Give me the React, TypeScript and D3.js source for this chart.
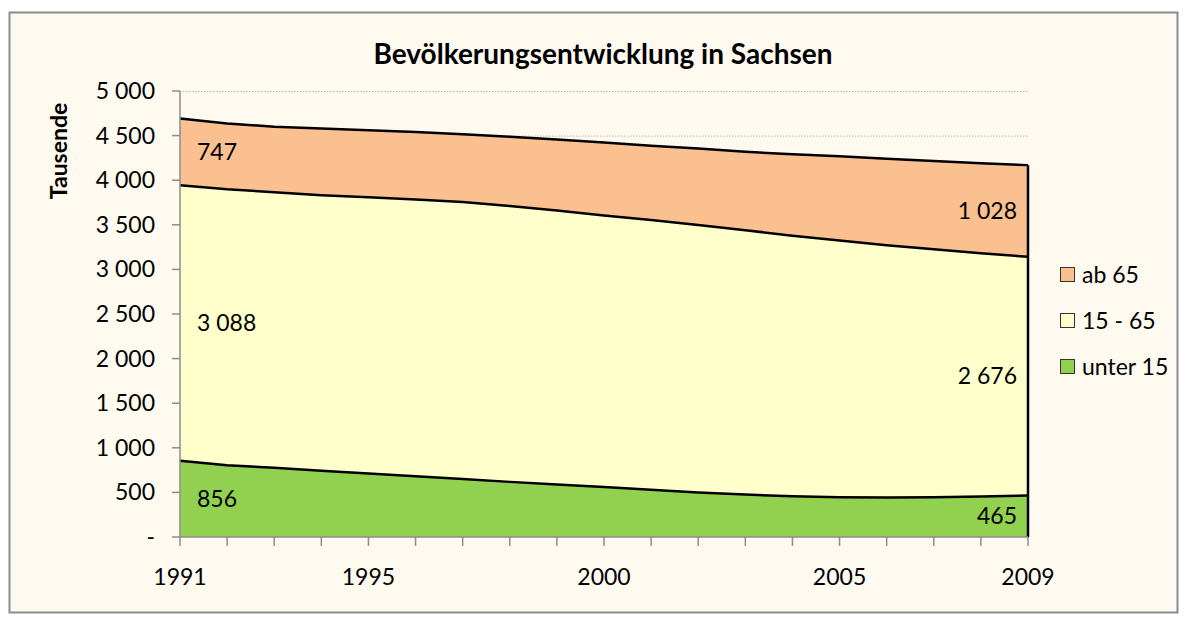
import React from 'react';
import * as d3 from 'd3';

// Data (Tausende)
const years = [1991, 1992, 1993, 1994, 1995, 1996, 1997, 1998, 1999, 2000, 2001, 2002, 2003, 2004, 2005, 2006, 2007, 2008, 2009];
const unter15 = [856, 805, 775, 742, 712, 680, 650, 618, 588, 560, 530, 500, 476, 456, 445, 442, 445, 453, 465];
const von15bis65 = [3088, 3093, 3090, 3090, 3098, 3105, 3105, 3094, 3072, 3045, 3025, 2998, 2964, 2921, 2878, 2828, 2780, 2727, 2676];
const ab65 = [747, 737, 735, 748, 750, 755, 760, 776, 795, 817, 830, 857, 878, 915, 945, 970, 990, 1010, 1028];

const seriesKeys = ['unter 15', '15 - 65', 'ab 65'];
const seriesColors = ['#92D050', '#FFFFCC', '#FAC090'];
const legendOrder = ['ab 65', '15 - 65', 'unter 15'];
const yTicks = [0, 500, 1000, 1500, 2000, 2500, 3000, 3500, 4000, 4500, 5000];
const xLabels = [1991, 1995, 2000, 2005, 2009];

const W = 1187;
const H = 621;
const margin = { left: 180, right: 159, top: 91, bottom: 84 };
const FONT = 'Lato, Carlito, Calibri, sans-serif';

const fmt = d3.formatLocale({ decimal: ',', thousands: ' ', grouping: [3], currency: ['', ''] }).format(',d');

export default function App() {
  const rows = years.map((year, i) => ({
    year,
    'unter 15': unter15[i],
    '15 - 65': von15bis65[i],
    'ab 65': ab65[i],
  }));

  const stacked = d3.stack<any>().keys(seriesKeys)(rows);

  const x = d3.scaleLinear()
    .domain([years[0], years[years.length - 1]])
    .range([margin.left, W - margin.right]);
  const y = d3.scaleLinear()
    .domain([0, 5000])
    .range([H - margin.bottom, margin.top]);

  const area = d3.area<any>()
    .x(d => x(d.data.year))
    .y0(d => y(d[0]))
    .y1(d => y(d[1]));
  const topLine = d3.line<any>()
    .x(d => x(d.data.year))
    .y(d => y(d[1]));

  const color = d3.scaleOrdinal<string, string>().domain(seriesKeys).range(seriesColors);

  const first = 0;
  const last = years.length - 1;
  const x0 = x(years[first]);
  const x1 = x(years[last]);
  const mid = (s: any, i: number) => y((s[i][0] + s[i][1]) / 2);

  return (
    <svg width={W} height={H} style={{ position: 'absolute', left: 0, top: 0, display: 'block' }} fontFamily={FONT}>
      <rect x={0} y={0} width={W} height={H} fill="#ffffff" />
      <rect x={9.5} y={12.5} width={1168} height={600} fill="#FEFAF0" stroke="#8c8c8c" strokeWidth={2} />

      <text x={603} y={64} textAnchor="middle" fontSize={28} fontWeight="bold" fill="#000">
        Bevölkerungsentwicklung in Sachsen
      </text>

      {/* gridlines */}
      {yTicks.filter(t => t > 0).map(t => (
        <line key={t} x1={x0} x2={x1} y1={y(t) + 0.5} y2={y(t) + 0.5} stroke="#b5b5b5" strokeWidth={1} strokeDasharray="1.5,1.5" />
      ))}

      {/* areas */}
      {stacked.map(s => (
        <path key={s.key} d={area(s) || ''} fill={color(s.key)} />
      ))}
      {stacked.map(s => (
        <path key={s.key + '-line'} d={topLine(s) || ''} fill="none" stroke="#000" strokeWidth={2.5} />
      ))}
      <line x1={x1} x2={x1} y1={y(0)} y2={y(stacked[2][last][1])} stroke="#000" strokeWidth={2.5} />

      {/* y axis */}
      <line x1={x0} x2={x0} y1={y(5000)} y2={y(0)} stroke="#8c8c8c" strokeWidth={1.5} />
      {yTicks.map(t => (
        <g key={t}>
          <line x1={x0 - 8} x2={x0} y1={y(t)} y2={y(t)} stroke="#8c8c8c" strokeWidth={1.5} />
          <text x={155} y={y(t)} dy="0.35em" textAnchor="end" fontSize={23} fill="#000">
            {t === 0 ? '-' : fmt(t)}
          </text>
        </g>
      ))}
      <text transform={`translate(67,${151}) rotate(-90)`} textAnchor="middle" fontSize={23} fontWeight="bold" fill="#000">
        Tausende
      </text>

      {/* x axis */}
      <line x1={x0} x2={x1} y1={y(0)} y2={y(0)} stroke="#8c8c8c" strokeWidth={1.5} />
      {years.map(yr => (
        <line key={yr} x1={x(yr)} x2={x(yr)} y1={y(0)} y2={y(0) + 9} stroke="#8c8c8c" strokeWidth={1.5} />
      ))}
      {xLabels.map(yr => (
        <text key={yr} x={x(yr)} y={585} textAnchor="middle" fontSize={23} fill="#000">
          {yr}
        </text>
      ))}

      {/* data labels */}
      {stacked.map(s => (
        <g key={s.key + '-labels'}>
          <text x={x0 + 17} y={mid(s, first)} dy="0.35em" textAnchor="start" fontSize={23} fill="#000">
            {fmt(s[first][1] - s[first][0])}
          </text>
          <text x={x1 - 11} y={mid(s, last)} dy="0.35em" textAnchor="end" fontSize={23} fill="#000">
            {fmt(s[last][1] - s[last][0])}
          </text>
        </g>
      ))}

      {/* legend */}
      {legendOrder.map((k, i) => (
        <g key={k} transform={`translate(1060,${267 + i * 46})`}>
          <rect x={0.5} y={0.5} width={14} height={14} fill={color(k)} stroke="#333" strokeWidth={1} />
          <text x={22} y={7.5} dy="0.35em" fontSize={23} fill="#000">{k}</text>
        </g>
      ))}
    </svg>
  );
}
